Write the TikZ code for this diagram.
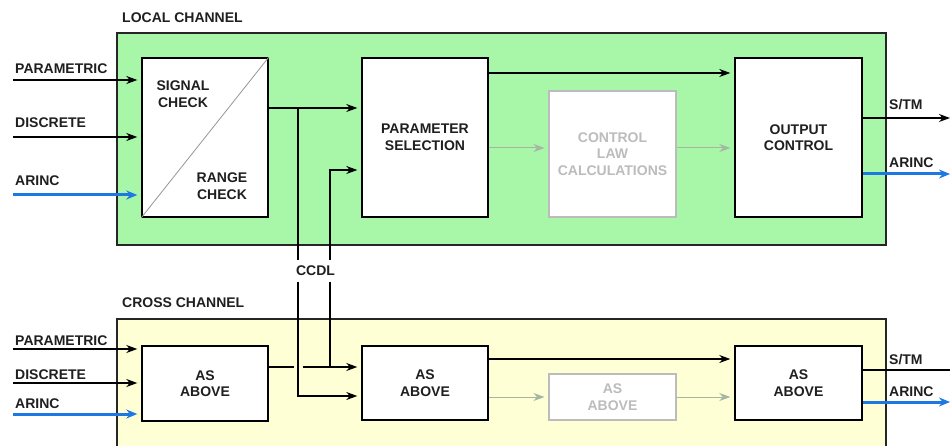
\documentclass[tikz,border=0pt]{standalone}
\usepackage{fontspec}
\setmainfont{Liberation Sans}
\usetikzlibrary{arrows.meta,positioning}
\definecolor{locgreen}{RGB}{168,246,168}
\definecolor{crossyel}{RGB}{255,255,214}
\definecolor{arincblue}{RGB}{30,120,228}
\definecolor{dimgr}{RGB}{188,188,188}
\definecolor{dimarr}{RGB}{165,182,165}
\newcommand{\lbfont}{\fontsize{14}{16.5}\selectfont\bfseries}
\tikzset{
  chan/.style={draw=black!85,line width=1.2pt},
  blk/.style={draw=black,fill=white,line width=1.4pt,inner sep=0pt,font=\lbfont,text=black!88,align=center},
  gblk/.style={draw=dimgr,fill=white,line width=1.1pt,inner sep=0pt,font=\lbfont,text=dimgr,align=center},
  lb/.style={font=\lbfont,text=black!88,inner sep=0pt,align=center},
  ln/.style={draw=black,line width=1.3pt},
  arr/.style={-{Stealth[length=11pt,width=8pt,inset=3.5pt]},line width=1.3pt,draw=black,shorten >=4pt},
  garr/.style={-{Stealth[length=11pt,width=8pt,inset=3.5pt]},line width=1pt,draw=dimarr,shorten >=4pt},
  barr/.style={-{Stealth[length=11pt,width=9pt,inset=3.5pt]},line width=3pt,draw=arincblue,shorten >=4pt},
  diag/.style={draw=dimgr!80!black,line width=.8pt},
}
\begin{document}
\begin{tikzpicture}[x=1pt,y=-1pt]
\useasboundingbox (0,0) rectangle (950,446);
% the two channel frames; the cross one runs off the bottom
\fill[locgreen] (117,33) rectangle (886,245);
\draw[chan] (117,33) rectangle (886,245);
\fill[crossyel] (117,319) rectangle (886,446);
\draw[chan] (117,446) -- (117,319) -- (886,319) -- (886,446);
\node[lb,anchor=west] (loclab) at (122,18) {LOCAL CHANNEL};
\node[lb,anchor=west] (crslab) at (122,303) {CROSS CHANNEL};

% local channel blocks
\node[blk,minimum width=126,minimum height=159] (sig) at (205,137.5) {};
\draw[diag] (sig.south west) -- (sig.north east);
\node[lb] (sigtx) at (183,94) {SIGNAL\\CHECK};
\node[lb] (rngtx) at (222,186) {RANGE\\CHECK};
\node[blk,minimum width=126,minimum height=159] (par) at (425,137.5) {PARAMETER\\SELECTION};
\node[gblk,minimum width=127,minimum height=126] (ctl) at (612.5,154) {CONTROL\\LAW\\CALCULATIONS};
\node[blk,minimum width=127,minimum height=159] (out) at (798.5,137.5) {OUTPUT\\CONTROL};

% cross channel blocks
\node[blk,minimum width=126,minimum height=75] (c1) at (205,383.5) {AS\\ABOVE};
\node[blk,minimum width=126,minimum height=74] (c2) at (425,383) {AS\\ABOVE};
\node[gblk,minimum width=127,minimum height=46] (c3) at (612.5,397) {AS\\ABOVE};
\node[blk,minimum width=127,minimum height=74] (c4) at (798.5,383) {AS\\ABOVE};

% inputs
\foreach \k/\yy/\ly/\lab in {pa/80/69/PARAMETRIC, da/137/123/DISCRETE,
                             pb/349/341/PARAMETRIC, db/383/375/DISCRETE}{
  \coordinate (in\k) at (13,\yy);
  \node[lb,anchor=west] (lab\k) at (15,\ly) {\lab};
}
\draw[arr] (inpa) -- (inpa -| sig.west);
\draw[arr] (inda) -- (inda -| sig.west);
\draw[arr] (inpb) -- (inpb -| c1.west);
\draw[arr] (indb) -- (indb -| c1.west);
\coordinate (inaa) at (13,195);
\coordinate (inab) at (13,414);
\node[lb,anchor=west] (labaa) at (15,181) {ARINC};
\node[lb,anchor=west] (labab) at (15,404) {ARINC};
\draw[barr] (inaa) -- (inaa -| sig.west);
\draw[barr] (inab) -- (inab -| c1.west);

% CCDL cross links
\coordinate (j1) at (298,108);
\coordinate (j2) at (330,170);
\coordinate (j3) at (298,396);
\coordinate (j4) at (330,367);
\coordinate (hopl) at (294,367);
\coordinate (hopr) at (303,367);
\draw[arr] (sig.east |- j1) -- (par.west |- j1);
\draw[ln] (c1.east |- j4) -- (hopl);
\draw[arr] (hopr) -- (c2.west |- j4);
\draw[arr] (j1) -- (j3) -- (c2.west |- j3);
\draw[arr] (j4) -- (j2) -- (par.west |- j2);
\node[lb,fill=white,inner xsep=2pt,inner ysep=6pt] (ccdl) at (315.5,271) {CCDL};

% local forward paths
\coordinate (rt) at (0,73);
\coordinate (rg) at (0,148);
\draw[arr] (par.east |- rt) -- (out.west |- rt);
\draw[garr] (par.east |- rg) -- (ctl.west |- rg);
\draw[garr] (ctl.east |- rg) -- (out.west |- rg);

% cross forward paths
\coordinate (crt) at (0,359);
\coordinate (crg) at (0,397);
\draw[arr] (c2.east |- crt) -- (c4.west |- crt);
\draw[garr] (c2.east |- crg) -- (c3.west |- crg);
\draw[garr] (c3.east |- crg) -- (c4.west |- crg);

% outputs
\coordinate (stma) at (950,118);
\coordinate (ara) at (950,174);
\coordinate (stmb) at (950,370);
\coordinate (arb) at (950,402);
\draw[arr,shorten >=0pt] (out.east |- stma) -- (stma);
\draw[barr,shorten >=0pt] (out.east |- ara) -- (ara);
\draw[ln] (c4.east |- stmb) -- (stmb);
\draw[barr,shorten >=0pt] (c4.east |- arb) -- (arb);
\node[lb,anchor=west] (stmla) at (889,105) {S/TM};
\node[lb,anchor=west] (arla) at (889,163) {ARINC};
\node[lb,anchor=west] (stmlb) at (889,360) {S/TM};
\node[lb,anchor=west] (arlb) at (889,392) {ARINC};
\end{tikzpicture}
\end{document}
